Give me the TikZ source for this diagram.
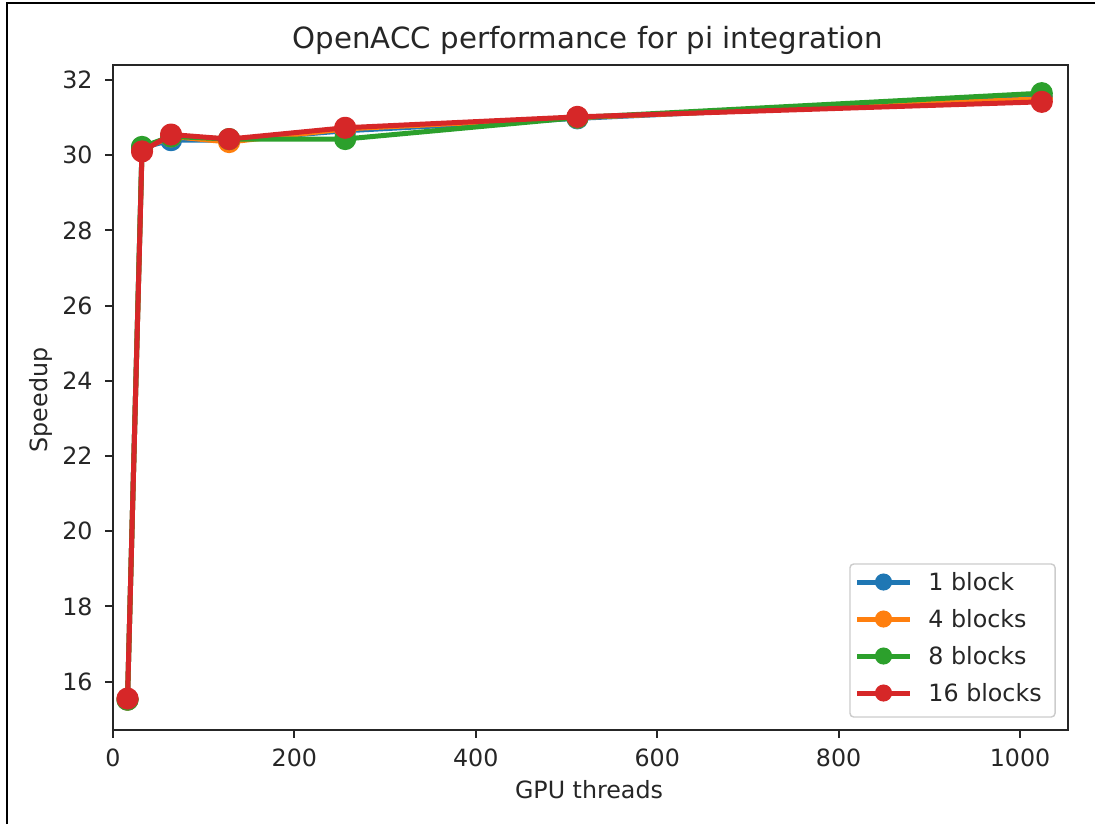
\documentclass[tikz,border=0pt]{standalone}
\usepackage{fontspec}
\setmainfont{DejaVu Sans}
\definecolor{tabblue}{HTML}{1F77B4}
\definecolor{taborange}{HTML}{FF7F0E}
\definecolor{tabgreen}{HTML}{2CA02C}
\definecolor{tabred}{HTML}{D62728}
\begin{document}
\begin{tikzpicture}[x=0.4208pt,y=-0.4208pt,
  spine/.style={line width=0.8pt, black!85},
  tickmark/.style={line width=0.8pt, black!85},
  ticklab/.style={font=\fontsize{10}{12}\selectfont, text=black!85, inner sep=0pt},
  axlab/.style={font=\fontsize{10}{12}\selectfont, text=black!85, inner sep=0pt},
  series/.style={line width=2.1pt, line join=round, line cap=round,
                 mark=*, mark size=3.6pt, mark options={solid}},
  legline/.style={line width=2.1pt},
  legtext/.style={font=\fontsize{10}{12}\selectfont, text=black!85, inner sep=0pt, anchor=west}]
  \useasboundingbox (0,0) rectangle (1095,824);

  % page frame (top and left edges)
  \draw[line width=0.85pt] (7,824) -- (7,3) -- (1095,3);

  % title
  \node (title) [font=\fontsize{12.3}{14}\selectfont, text=black!85, inner sep=0pt, anchor=base]
    at (588,48) {OpenACC performance for pi integration};

  % axes frame
  \draw[spine] (113,65) rectangle (1068,730);

  % x ticks
  \foreach \v in {0,200,400,600,800,1000} {
    \pgfmathsetmacro{\xp}{113+0.907*\v}
    \draw[tickmark] (\xp,730) -- (\xp,738.3);
    \node (xt\v) [ticklab, anchor=north] at (\xp,748) {\v};
  }
  % y ticks
  \foreach \s in {16,18,...,32} {
    \pgfmathsetmacro{\yp}{1283.2-37.6*\s}
    \draw[tickmark] (113,\yp) -- (104.7,\yp);
    \node (yt\s) [ticklab, anchor=east] at (93,\yp) {\s};
  }

  % axis labels
  \node (xlabel) [axlab, anchor=base] at (589,798) {GPU threads};
  \node (ylabel) [axlab, rotate=90] at (41,400) {Speedup};

  % data, in axis units
  \begin{scope}[x=0.38167pt, y=15.822pt, shift={(47.55pt,-539.97pt)}]
    \draw[series, tabblue, mark options={fill=tabblue}] plot coordinates
      {(16,15.52) (32,30.2) (64,30.4) (128,30.4) (256,30.65) (512,30.98) (1024,31.55)};
    \draw[series, taborange, mark options={fill=taborange}] plot coordinates
      {(16,15.52) (32,30.15) (64,30.5) (128,30.35) (256,30.7) (512,31.0) (1024,31.5)};
    \draw[series, tabgreen, mark options={fill=tabgreen}] plot coordinates
      {(16,15.52) (32,30.22) (64,30.5) (128,30.43) (256,30.43) (512,31.0) (1024,31.65)};
    \draw[series, tabred, mark options={fill=tabred}] plot coordinates
      {(16,15.55) (32,30.1) (64,30.55) (128,30.43) (256,30.73) (512,31.02) (1024,31.42)};
  \end{scope}

  % legend
  \node (legend) [draw=black!20, line width=0.6pt, fill=white, fill opacity=0.8, draw opacity=1,
    rounded corners=1.6pt, minimum width=86.3pt, minimum height=64.4pt, inner sep=0pt]
    at (952.5,640.5) {};
  \foreach \c/\lab/\yy [count=\i] in {tabblue/1 block/582, taborange/4 blocks/619,
                                      tabgreen/8 blocks/656, tabred/16 blocks/693} {
    \coordinate (la\i) at (857,\yy);
    \coordinate (lb\i) at (910,\yy);
    \draw[legline, \c] (la\i) -- (lb\i);
    \fill[\c] (883.5,\yy) circle (3.6pt);
    \node (lt\i) [legtext] at (928,\yy) {\lab};
  }
\end{tikzpicture}
\end{document}
